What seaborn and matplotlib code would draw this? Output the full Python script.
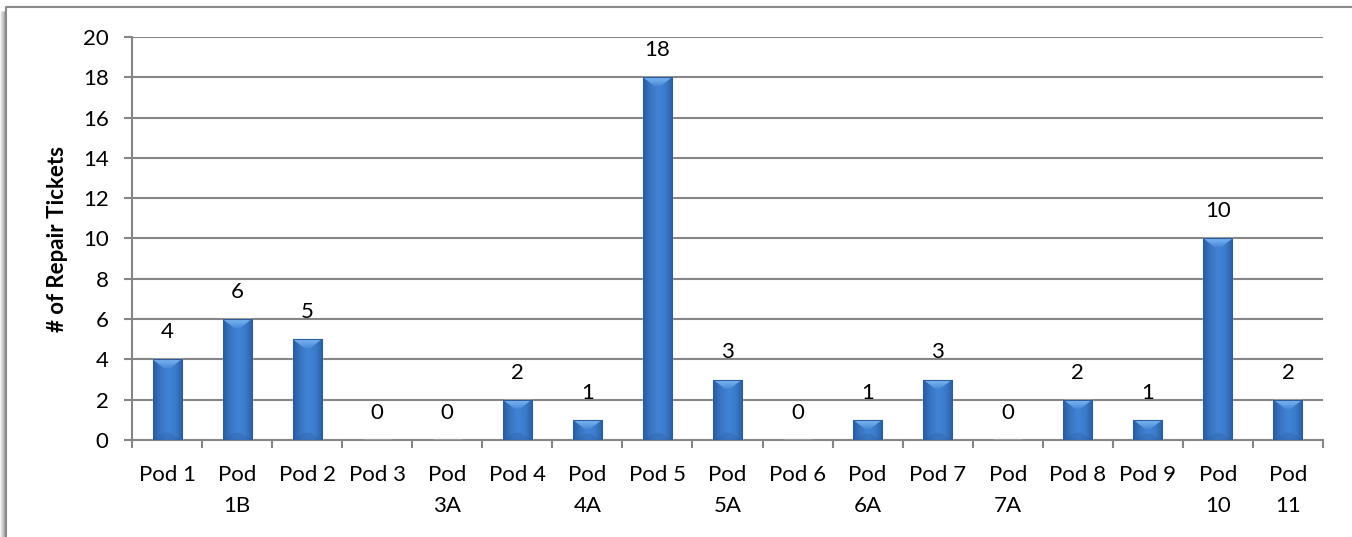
import numpy as np
import pandas as pd
import matplotlib
matplotlib.use("Agg")
import matplotlib.pyplot as plt
import seaborn as sns
from matplotlib.patches import Polygon
from matplotlib.lines import Line2D
from matplotlib.colors import LinearSegmentedColormap

# Repair tickets per pod
pods = ["Pod 1", "Pod\n1B", "Pod 2", "Pod 3", "Pod\n3A", "Pod 4", "Pod\n4A",
        "Pod 5", "Pod\n5A", "Pod 6", "Pod\n6A", "Pod 7", "Pod\n7A", "Pod 8",
        "Pod 9", "Pod\n10", "Pod\n11"]
tickets = [4, 6, 5, 0, 0, 2, 1, 18, 3, 0, 1, 3, 0, 2, 1, 10, 2]
y_ticks = list(range(0, 21, 2))
y_label = "# of Repair Tickets"

W, H = 1352, 537
sns.set_theme(style="white")
plt.rcParams["font.family"] = ["Lato", "DejaVu Sans"]

fig = plt.figure(figsize=(W / 100, H / 100), dpi=100)
fig.patch.set_facecolor("white")
left_px, right_px, top_px, bot_px = 132, 1323, 37, 440
ax = fig.add_axes([left_px / W, 1 - bot_px / H,
                   (right_px - left_px) / W, (bot_px - top_px) / H])

df = pd.DataFrame({"pod": pods, "tickets": tickets})
sns.barplot(data=df, x="pod", y="tickets", color="#3b78c8", width=0.414,
            saturation=1, ax=ax, zorder=3)

grid_grey = "#868686"
ax.set_ylim(0, 20)
ax.set_xlim(-0.5, len(pods) - 0.5)
ax.set_yticks(y_ticks)
ax.yaxis.grid(True, color=grid_grey, linewidth=1.5)
ax.set_axisbelow(True)
for side in ("top", "right"):
    ax.spines[side].set_visible(False)
for side in ("left", "bottom"):
    ax.spines[side].set_color(grid_grey)
    ax.spines[side].set_linewidth(1.5)

# bevelled shading on each bar
body_cmap = LinearSegmentedColormap.from_list(
    "body", ["#2b5c9d", "#3875c4", "#4183d6", "#3c7bcb", "#2d5fa2"])
top_cmap = LinearSegmentedColormap.from_list("top", ["#4c8ad8", "#7ab6f4"])
units_per_px = 20 / (bot_px - top_px)
bevel_h = 9 * units_per_px
for p in ax.patches:
    x0, w, h = p.get_x(), p.get_width(), p.get_height()
    if h <= 0:
        continue
    grad = np.linspace(0, 1, 64)[None, :]
    im = ax.imshow(grad, cmap=body_cmap, extent=[x0, x0 + w, 0, h],
                   aspect="auto", zorder=3.1, interpolation="bicubic")
    im.set_clip_path(p)
    bw = w * 0.4
    top = Polygon([(x0, h), (x0 + w, h), (x0 + w - bw, h - bevel_h),
                   (x0 + bw, h - bevel_h)], closed=True, facecolor="none",
                  edgecolor="none", zorder=3.2)
    ax.add_patch(top)
    tim = ax.imshow(np.linspace(0, 1, 32)[:, None], cmap=top_cmap,
                    extent=[x0, x0 + w, h - bevel_h, h], origin="lower",
                    aspect="auto", zorder=3.2, interpolation="bicubic")
    tim.set_clip_path(top)
    bh = min(bevel_h * 0.8, h * 0.3)
    ax.add_patch(Polygon([(x0, 0), (x0 + w, 0), (x0 + w - bw, bh),
                          (x0 + bw, bh)], closed=True, facecolor="#2d5e9f",
                         alpha=0.35, edgecolor="none", zorder=3.3))
    ax.add_patch(Polygon([(x0, 0), (x0, h), (x0 + w, h), (x0 + w, 0)],
                         closed=True, facecolor="none", edgecolor="#2c5c9c",
                         linewidth=0.8, zorder=3.4))

ax.set_xlim(-0.5, len(pods) - 0.5)
ax.set_ylim(0, 20)

# value labels
for p, v in zip(ax.patches[:len(tickets)], tickets):
    ax.annotate(str(v), (p.get_x() + p.get_width() / 2, v),
                xytext=(0, 19.5), textcoords="offset points",
                ha="center", va="center", fontsize=16, color="black")

# ticks: y ticks outward, x ticks between categories
ax.tick_params(axis="y", which="major", direction="out", length=5.8,
               width=1.5, color=grid_grey, pad=11, labelsize=16,
               labelcolor="black", left=True)
ax.set_xticks(np.arange(-0.5, len(pods), 1.0), minor=True)
ax.tick_params(axis="x", which="minor", direction="out", length=5.8,
               width=1.5, color=grid_grey, bottom=True)
ax.tick_params(axis="x", which="major", length=0, pad=18, labelsize=16,
               labelcolor="black")
ax.set_xticks(range(len(pods)))
ax.set_xticklabels(pods, linespacing=1.7)
ax.set_xlabel("")
ax.set_ylabel(y_label, fontsize=16, fontweight="bold", color="black")
ax.yaxis.set_label_coords((57 - left_px) / (right_px - left_px), 0.5)
ax.yaxis.label.set_verticalalignment("center")

# chart frame with soft shadow
fx, fy = 6 / W, 1 - 7 / H
for i, a in enumerate([0.10, 0.18, 0.28, 0.40, 0.55]):
    xo = (1 + i) / W
    fig.add_artist(Line2D([xo, xo], [0, 1 - 12 / H], color="#7a7a7a",
                          alpha=a, linewidth=1.2, transform=fig.transFigure))
fig.add_artist(Line2D([fx, fx, 1.0], [0, fy, fy], color="#8a8a8a",
                      linewidth=1.5, transform=fig.transFigure))

fig.savefig("out.png", dpi=100)
